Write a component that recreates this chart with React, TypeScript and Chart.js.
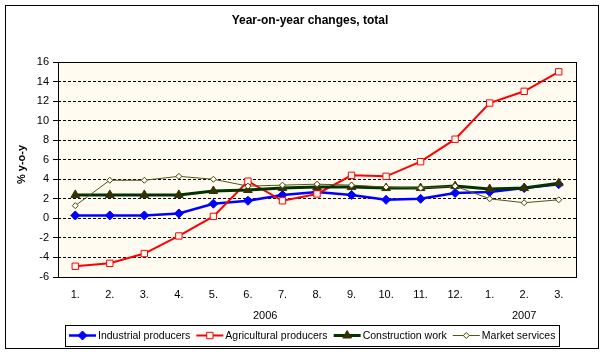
import React, { useEffect, useRef } from 'react';
import { Chart, registerables } from 'chart.js';
import { drawPoint } from 'chart.js/helpers';

Chart.register(...registerables);

const categories = ['1.', '2.', '3.', '4.', '5.', '6.', '7.', '8.', '9.', '10.', '11.', '12.', '1.', '2.', '3.'];
const yearLabels = ['2006', '2007'];
const yearStart = [0, 12];
const yearEnd = [11, 14];

const industrial = [0.3, 0.3, 0.3, 0.5, 1.5, 1.8, 2.4, 2.7, 2.4, 1.9, 2.0, 2.6, 2.7, 3.1, 3.5];
const agricultural = [-4.9, -4.6, -3.6, -1.8, 0.2, 3.8, 1.8, 2.5, 4.4, 4.3, 5.8, 8.1, 11.8, 13.0, 15.0];
const construction = [2.4, 2.4, 2.4, 2.4, 2.8, 2.9, 3.1, 3.2, 3.2, 3.1, 3.1, 3.3, 3.0, 3.1, 3.6];
const market = [1.3, 3.9, 3.9, 4.3, 4.0, 3.3, 3.4, 3.5, 3.4, 3.2, 3.1, 3.3, 2.0, 1.6, 1.9];

const seriesNames = ['Industrial producers', 'Agricultural producers', 'Construction work', 'Market services'];

const titleText = 'Year-on-year changes, total';
const yTitleText = '% y-o-y';

const FONT = '"Liberation Sans", Arial, sans-serif';
const PLOT_BG = '#FFFBF0';

document.body.style.margin = '0';

const decorPlugin = {
  id: 'decor',
  beforeDraw(chart: any) {
    const { ctx, chartArea: a, width, height } = chart;
    ctx.save();
    ctx.fillStyle = '#FFFFFF';
    ctx.fillRect(0, 0, width, height);
    ctx.strokeStyle = '#000000';
    ctx.lineWidth = 1;
    ctx.strokeRect(5.5, 5.5, width - 11, height - 11);
    ctx.fillStyle = PLOT_BG;
    ctx.fillRect(a.left, a.top, a.right - a.left, a.bottom - a.top);
    ctx.restore();
  },
  beforeDatasetsDraw(chart: any) {
    const { ctx, chartArea: a } = chart;
    ctx.save();
    ctx.strokeStyle = '#000000';
    ctx.lineWidth = 1;
    ctx.setLineDash([]);
    ctx.strokeRect(Math.round(a.left) + 0.5, Math.round(a.top) + 0.5, Math.round(a.right - a.left), Math.round(a.bottom - a.top));
    ctx.restore();
  },
  afterDraw(chart: any) {
    const { ctx, chartArea: a } = chart;
    const xs = chart.scales.x;
    ctx.save();
    ctx.fillStyle = '#000000';
    // title
    ctx.font = 'bold 12px ' + FONT;
    ctx.textAlign = 'center';
    ctx.textBaseline = 'middle';
    ctx.fillText(titleText, 310, 21);
    // y title
    ctx.save();
    ctx.translate(22, (a.top + a.bottom) / 2 - 5);
    ctx.rotate(-Math.PI / 2);
    ctx.font = 'bold 11px ' + FONT;
    ctx.fillText(yTitleText, 0, 0);
    ctx.restore();
    // year labels
    ctx.font = '11px ' + FONT;
    yearLabels.forEach((lab, i) => {
      const x = (xs.getPixelForValue(yearStart[i]) + xs.getPixelForValue(yearEnd[i])) / 2;
      ctx.fillText(lab, x, 316);
    });
    // legend
    const ds = chart.data.datasets;
    const sampleW = 27;
    const gapText = 2;
    const gapItem = 6;
    const boxLeft = 65;
    const boxRight = 559;
    const boxTop = 325;
    const boxBottom = 346;
    const avail = boxRight - boxLeft - 7 - ds.length * (sampleW + gapText) - (ds.length - 1) * gapItem;
    let fs = 11;
    ctx.font = fs + 'px ' + FONT;
    let textTotal = ds.reduce((s: number, d: any) => s + ctx.measureText(d.label).width, 0);
    if (textTotal > avail) {
      fs = (11 * avail) / textTotal;
      ctx.font = fs + 'px ' + FONT;
      textTotal = ds.reduce((s: number, d: any) => s + ctx.measureText(d.label).width, 0);
    }
    const widths = ds.map((d: any) => ctx.measureText(d.label).width);
    const cy = (boxTop + boxBottom) / 2;
    ctx.strokeStyle = '#000000';
    ctx.lineWidth = 1;
    ctx.strokeRect(boxLeft + 0.5, boxTop + 0.5, boxRight - boxLeft, boxBottom - boxTop);
    let x = boxLeft + 4;
    ds.forEach((d: any, i: number) => {
      ctx.save();
      ctx.strokeStyle = d.borderColor;
      ctx.lineWidth = d.borderWidth;
      ctx.beginPath();
      ctx.moveTo(x, cy);
      ctx.lineTo(x + sampleW, cy);
      ctx.stroke();
      ctx.fillStyle = d.pointBackgroundColor;
      ctx.strokeStyle = d.pointBorderColor;
      ctx.lineWidth = d.pointBorderWidth;
      drawPoint(ctx, { pointStyle: d.pointStyle, radius: d.pointRadius, rotation: 0, borderWidth: d.pointBorderWidth }, x + sampleW / 2, cy);
      ctx.restore();
      ctx.fillStyle = '#000000';
      ctx.textAlign = 'left';
      ctx.fillText(d.label, x + sampleW + gapText, cy + 0.5);
      x += sampleW + gapText + widths[i] + gapItem;
    });
    ctx.restore();
  },
};

export default function App() {
  const ref = useRef<HTMLCanvasElement | null>(null);
  useEffect(() => {
    if (!ref.current) return;
    const chart = new Chart(ref.current, {
      type: 'line',
      data: {
        labels: categories,
        datasets: [
          {
            label: seriesNames[0],
            data: industrial,
            borderColor: '#0000FF',
            borderWidth: 2.5,
            pointStyle: 'rectRot',
            pointRadius: 4.5,
            pointBackgroundColor: '#0000FF',
            pointBorderColor: '#0000FF',
            pointBorderWidth: 1,
            tension: 0,
            order: 4,
          },
          {
            label: seriesNames[1],
            data: agricultural,
            borderColor: '#FF0000',
            borderWidth: 2,
            pointStyle: 'rect',
            pointRadius: 4.5,
            pointBackgroundColor: PLOT_BG,
            pointBorderColor: '#FF0000',
            pointBorderWidth: 1,
            tension: 0,
            order: 3,
          },
          {
            label: seriesNames[2],
            data: construction,
            borderColor: '#003300',
            borderWidth: 3,
            pointStyle: 'triangle',
            pointRadius: 5,
            pointBackgroundColor: '#333300',
            pointBorderColor: '#333300',
            pointBorderWidth: 1,
            tension: 0,
            order: 2,
          },
          {
            label: seriesNames[3],
            data: market,
            borderColor: '#555511',
            borderWidth: 1,
            pointStyle: 'rectRot',
            pointRadius: 3,
            pointBackgroundColor: '#FFFFFF',
            pointBorderColor: '#444400',
            pointBorderWidth: 1,
            tension: 0,
            order: 1,
          },
        ],
      } as any,
      options: {
        responsive: false,
        animation: false,
        layout: { padding: { left: 0, right: 28, top: 62, bottom: 0 } },
        plugins: {
          legend: { display: false },
          tooltip: { enabled: false },
          title: { display: false },
        },
        scales: {
          x: {
            offset: true,
            grid: { display: false, drawTicks: false },
            border: { display: false },
            ticks: {
              color: '#000000',
              font: { family: FONT, size: 11 },
              padding: 11,
              maxRotation: 0,
              autoSkip: false,
            },
            afterFit: (axis: any) => {
              axis.height = 77;
            },
          },
          y: {
            min: -6,
            max: 16,
            grid: {
              color: '#000000',
              lineWidth: 1,
              drawTicks: true,
              tickLength: 5,
              tickColor: '#000000',
              tickBorderDash: [],
            },
            border: { display: false, dash: [3, 2] },
            ticks: {
              stepSize: 2,
              color: '#000000',
              font: { family: FONT, size: 11 },
              padding: 4,
            },
            afterFit: (axis: any) => {
              axis.width = 58;
            },
          },
        },
      } as any,
      plugins: [decorPlugin],
    });
    return () => chart.destroy();
  }, []);
  return <canvas ref={ref} width={604} height={354} style={{ display: 'block' }} />;
}
